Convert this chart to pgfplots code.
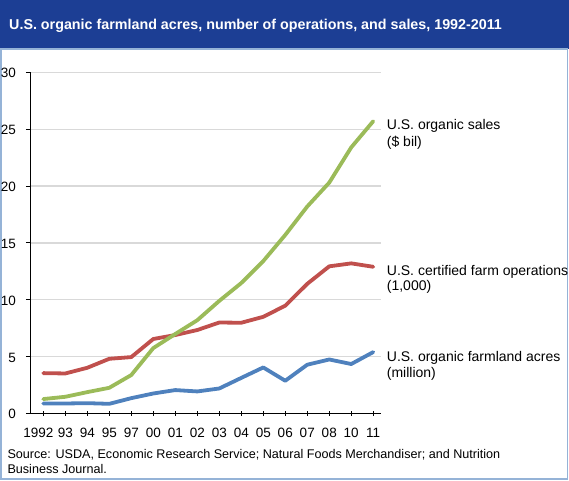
\documentclass[border=0pt]{standalone}
\usepackage{fontspec}
\setmainfont{Liberation Sans}
\usepackage{pgfplots}
\pgfplotsset{compat=1.18}
\definecolor{titlebar}{RGB}{28,62,148}
\definecolor{bordercol}{RGB}{149,179,215}
\definecolor{cblue}{HTML}{4F81BD}
\definecolor{cred}{HTML}{C0504D}
\definecolor{cgreen}{HTML}{9BBB59}
\definecolor{gridc}{RGB}{217,217,217}
\begin{document}
\begin{tikzpicture}[x=1pt,y=1pt]
\path[use as bounding box] (0,0) rectangle (569,480);
\fill[titlebar] (0,431) rectangle (569,480);
\draw[bordercol, line width=1.2pt] (1,1) rectangle (567.5,431);
\node[anchor=base west, inner sep=0pt, text=white, font=\bfseries\fontsize{14.3}{16}\selectfont] at (9,450.7) {U.S. organic farmland acres, number of operations, and sales, 1992-2011};
\begin{axis}[
  at={(30.3pt,66.5pt)}, anchor=south west,
  scale only axis, width=350.2pt, height=341.2pt,
  xmin=-0.59, xmax=15.33, ymin=0, ymax=30,
  axis x line*=bottom, axis y line*=left,
  axis line style={-, black, line width=0.9pt},
  xtick={0,...,15},
  xticklabels={\makebox[0pt]{1992\kern10pt},93,94,95,97,00,01,02,03,04,05,06,07,08,10,11},
  ytick={0,5,...,30},
  ymajorgrids, major grid style={gridc, line width=1.2pt},
  tick align=outside, major tick length=4.5pt,
  tick style={black, line width=0.9pt},
  x tick style={yshift=2.5pt},
  ticklabel style={font=\fontsize{13.5}{15}\selectfont},
  /pgf/number format/assume math mode=true,
  xticklabel style={anchor=base, yshift=-19.8pt, inner sep=0pt},
  yticklabel style={anchor=east, xshift=-9.6pt, yshift=-0.8pt, inner sep=0pt},
  clip=false,
]
\addplot[cblue, line width=3.8pt, line join=round, line cap=round] coordinates {
(0,0.88) (1,0.88) (2,0.91) (3,0.85) (4,1.35) (5,1.76) (6,2.06) (7,1.94) (8,2.2) (9,3.13) (10,4.05) (11,2.88) (12,4.29) (13,4.75) (14,4.35) (15,5.4)};
\addplot[cred, line width=3.8pt, line join=round, line cap=round] coordinates {
(0,3.55) (1,3.52) (2,4.02) (3,4.81) (4,4.96) (5,6.55) (6,6.9) (7,7.34) (8,8.0) (9,7.98) (10,8.5) (11,9.48) (12,11.4) (13,12.94) (14,13.2) (15,12.9)};
\addplot[cgreen, line width=3.8pt, line join=round, line cap=round] coordinates {
(0,1.27) (1,1.47) (2,1.88) (3,2.26) (4,3.38) (5,5.75) (6,6.99) (7,8.2) (8,9.9) (9,11.47) (10,13.4) (11,15.7) (12,18.2) (13,20.3) (14,23.4) (15,25.7)};
\end{axis}
\begin{scope}[every node/.style={anchor=base west, inner sep=0pt, font=\fontsize{14}{16}\selectfont}]
\node at (386.7,350) {U.S. organic sales};
\node at (386.7,334) {(\$ bil)};
\node at (386.7,205) {U.S. certified farm operations};
\node at (386.7,189.3) {(1,000)};
\node at (386.7,118.3) {U.S. organic farmland acres};
\node at (386.7,102.7) {(million)};
\end{scope}
\begin{scope}[every node/.style={anchor=base west, inner sep=0pt, font=\fontsize{12.6}{14}\selectfont}]
\node at (7.3,21.3) {Source: USDA, Economic Research Service; Natural Foods Merchandiser; and Nutrition};
\node at (7.3,6.7) {Business Journal.};
\end{scope}
\end{tikzpicture}
\end{document}
